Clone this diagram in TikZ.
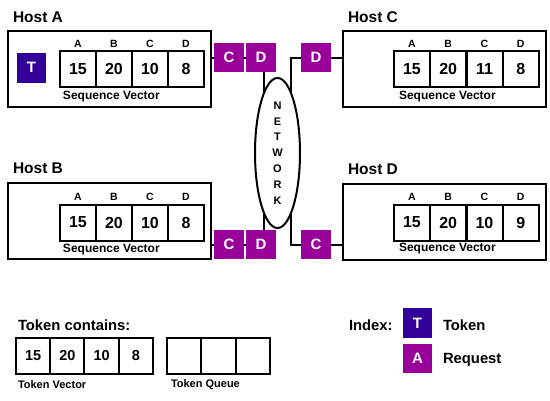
\documentclass[tikz,border=0pt]{standalone}
\usepackage{fontspec}
\setmainfont{Liberation Sans}
\usetikzlibrary{shapes.geometric}
\definecolor{tokcol}{HTML}{330099}
\definecolor{reqcol}{HTML}{990099}
\tikzset{
  every node/.style={outer sep=0pt},
  hostbox/.style={draw, line width=2pt, minimum width=203pt, minimum height=76pt, inner sep=0pt},
  title/.style={anchor=west, inner sep=0pt, font=\bfseries\fontsize{15.5}{18}\selectfont},
  cell/.style={draw, line width=2pt, minimum width=36pt, minimum height=36pt, inner sep=0pt, font=\bfseries\fontsize{16}{18}\selectfont},
  tcell/.style={draw, line width=2pt, minimum width=34.25pt, minimum height=36pt, inner sep=0pt, font=\bfseries\fontsize{14.5}{17}\selectfont},
  lbl/.style={inner sep=0pt, font=\bfseries\fontsize{10.5}{12}\selectfont},
  caption/.style={anchor=west, inner sep=0pt, font=\bfseries\fontsize{12}{14}\selectfont},
  smallcap/.style={anchor=west, inner sep=0pt, font=\bfseries\fontsize{11}{13}\selectfont},
  req/.style={fill=reqcol, text=white, minimum width=30pt, minimum height=29pt, inner sep=0pt, font=\bfseries\fontsize{15}{17}\selectfont},
  tok/.style={fill=tokcol, text=white, minimum width=29pt, minimum height=30pt, inner sep=0pt, font=\bfseries\fontsize{15}{17}\selectfont},
  conn/.style={line width=2pt},
  bigtext/.style={anchor=west, inner sep=0pt, font=\bfseries\fontsize{14.8}{17}\selectfont}
}
\begin{document}
\begin{tikzpicture}[x=1pt,y=-1pt]
\useasboundingbox (0,0) rectangle (550,400);
% Host boxes
\node[hostbox] (hA) at (109.5,68.5) {};
\node[hostbox] (hB) at (109.5,220.5) {};
\node[hostbox] (hC) at (444,69) {};
\node[hostbox] (hD) at (444.5,221.5) {};
\node[title] (tA) at (13,17) {Host A};
\node[title] (tB) at (13,168) {Host B};
\node[title] (tC) at (348,17) {Host C};
\node[title] (tD) at (348,169) {Host D};
% Host A
\node[tok] (tokA) at (31.5,67.5) {T};
\foreach \v [count=\i] in {15,20,10,8} \node[cell] (a\i) at ({78+36*(\i-1)},69) {\v};
\foreach \l [count=\i] in {A,B,C,D} \node[lbl] (al\i) at ({78+36*(\i-1)},44) {\l};
\node[caption] (sa) at (63,97) {Sequence Vector};
% Host B
\foreach \v [count=\i] in {15,20,10,8} \node[cell] (b\i) at ({78+36*(\i-1)},222.5) {\v};
\foreach \l [count=\i] in {A,B,C,D} \node[lbl] (bl\i) at ({78+36*(\i-1)},197) {\l};
\node[caption] (sb) at (63,250) {Sequence Vector};
% Host C
\foreach \v [count=\i] in {15,20,11,8} \node[cell] (c\i) at ({412+36.25*(\i-1)},69) {\v};
\foreach \l [count=\i] in {A,B,C,D} \node[lbl] (cl\i) at ({412+36.25*(\i-1)},44) {\l};
\node[caption] (sc) at (399,97) {Sequence Vector};
% Host D
\foreach \v [count=\i] in {15,20,10,9} \node[cell] (d\i) at ({412+36.25*(\i-1)},222.5) {\v};
\foreach \l [count=\i] in {A,B,C,D} \node[lbl] (dl\i) at ({412+36.25*(\i-1)},197) {\l};
\node[caption] (sd) at (399,249) {Sequence Vector};
% Network
\node[ellipse, draw, line width=2pt, minimum width=45pt, minimum height=150pt, inner sep=0pt] (net) at (277.5,153) {};
\node[align=center, inner sep=0pt, font=\bfseries\fontsize{11}{15.8}\selectfont] (nettxt) at (net) {N\\E\\T\\W\\O\\R\\K};
% Requests
\node[req] (rAC) at (229,57.5) {C};
\node[req] (rAD) at (261,57.5) {D};
\node[req] (rCD) at (316,57.5) {D};
\node[req] (rBC) at (229,244.5) {C};
\node[req] (rBD) at (261,244.5) {D};
\node[req] (rDC) at (316,244.5) {C};
% Connectors
\draw[conn] (rAC.west -| hA.east) -- (rAC.west);
\draw[conn] (rAC.east) -- (rAD.west);
\draw[conn] (net.102) -- (net.102 |- rAD.south);
\draw[conn] (rBC.west -| hB.east) -- (rBC.west);
\draw[conn] (rBC.east) -- (rBD.west);
\draw[conn] (net.258) -- (net.258 |- rBD.north);
\draw[conn] (net.77) |- (rCD.west);
\draw[conn] (rCD.east) -- (rCD.east -| hC.west);
\draw[conn] (net.283) |- (rDC.west);
\draw[conn] (rDC.east) -- (rDC.east -| hD.west);
% Token contains
\node[bigtext] (tc) at (18,325) {Token contains:};
\foreach \v [count=\i] in {15,20,10,8} \node[tcell] (tv\i) at ({33.1+34.25*(\i-1)},356) {\v};
\foreach \i in {1,2,3} \node[tcell] (tq\i) at ({184.2+34.3*(\i-1)},356) {};
\node[smallcap] (tvl) at (18,385) {Token Vector};
\node[smallcap] (tql) at (171,385) {Token Queue};
% Index
\node[bigtext] (idx) at (349,325) {Index:};
\node[tok] (iT) at (417.5,323) {T};
\node[req, minimum width=29pt] (iA) at (417.5,358.5) {A};
\node[bigtext] (iTl) at (443,325) {Token};
\node[bigtext] (iAl) at (443,360) {Request};
\end{tikzpicture}
\end{document}
